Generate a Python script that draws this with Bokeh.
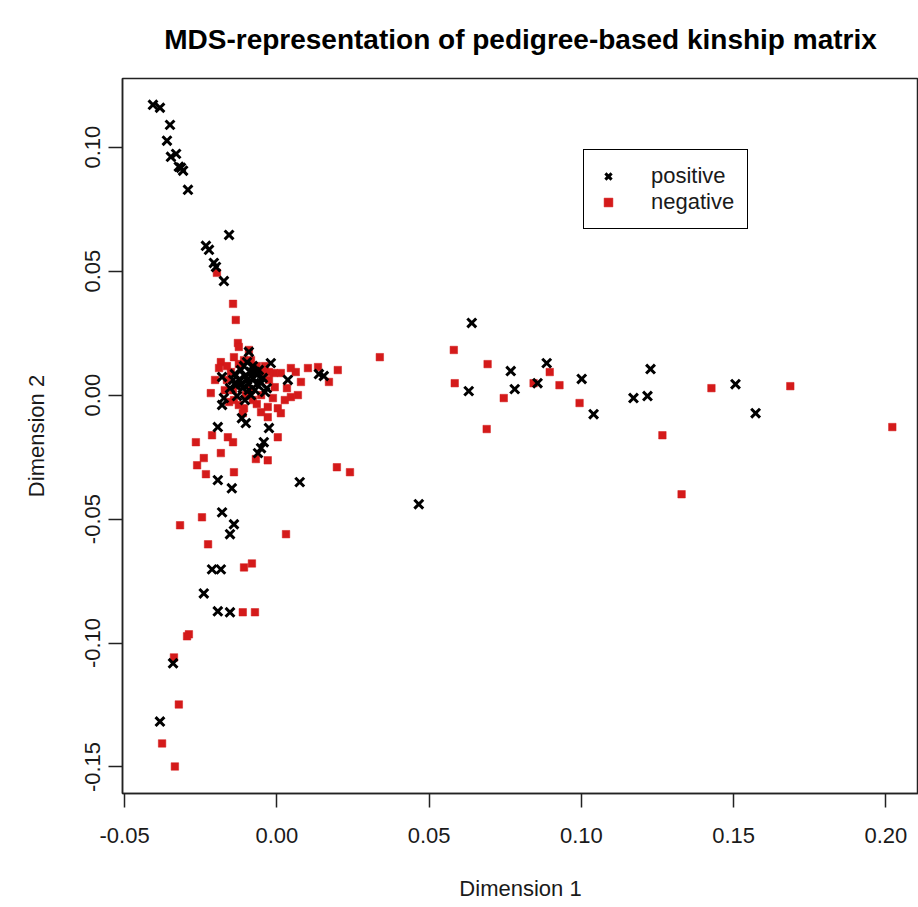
from bokeh.plotting import figure
from bokeh.models import (ColumnDataSource, FixedTicker, NumeralTickFormatter,
                          Legend, LegendItem)
from bokeh.embed import file_html
from bokeh.resources import INLINE

# MDS coordinates, individuals with a positive phenotype
pos_x = [-0.0407, -0.0384, -0.0351, -0.0361, -0.0348, -0.0331, -0.0322, -0.0308, -0.0315, -0.0292,
         -0.0157, -0.0233, -0.0223, -0.0207, -0.0200, -0.0174,
         -0.0092, -0.0020, -0.0098, -0.0118, -0.0085, -0.0105, -0.0079, -0.0125, -0.0066, -0.0092,
         -0.0112, -0.0052, -0.0135, -0.0072, -0.0039, 0.0036, 0.0138, 0.0154, -0.0180, -0.0174,
         -0.0180, -0.0033, -0.0115, -0.0194, -0.0026, -0.0043, -0.0052, -0.0062, -0.0102,
         -0.0108, -0.0079, -0.0059, -0.0138, -0.0098, -0.0118, -0.0066, -0.0085, -0.0105, -0.0144,
         -0.0046, -0.0131, -0.0072, -0.0092, -0.0154,
         -0.0194, -0.0148, 0.0075, -0.0180, -0.0141, -0.0154, -0.0213, -0.0184, -0.0240, -0.0194,
         -0.0154, -0.0341, -0.0384,
         0.0640, 0.0768, 0.0886, 0.0856, 0.0630, 0.0781, 0.1001, 0.1040, 0.1227, 0.1171, 0.1217,
         0.1506, 0.1572, 0.0466]
pos_y = [0.1171, 0.1159, 0.1090, 0.1026, 0.0961, 0.0973, 0.0921, 0.0905, 0.0917, 0.0828,
         0.0646, 0.0602, 0.0586, 0.0533, 0.0517, 0.0460,
         0.0174, 0.0129, 0.0133, 0.0101, 0.0093, 0.0077, 0.0069, 0.0061, 0.0081, 0.0044,
         0.0028, 0.0048, 0.0040, 0.0020, 0.0012, 0.0061, 0.0085, 0.0077, 0.0073, -0.0012,
         -0.0040, 0.0028, -0.0093, -0.0129, -0.0133, -0.0190, -0.0214, -0.0234, -0.0113,
         0.0117, 0.0117, 0.0101, 0.0085, 0.0061, 0.0044, 0.0044, 0.0000, -0.0020, 0.0061,
         0.0069, -0.0004, 0.0093, 0.0020, 0.0028,
         -0.0343, -0.0376, -0.0351, -0.0473, -0.0521, -0.0561, -0.0703, -0.0703, -0.0800, -0.0872,
         -0.0876, -0.1082, -0.1317,
         0.0291, 0.0097, 0.0129, 0.0048, 0.0016, 0.0024, 0.0065, -0.0077, 0.0105, -0.0012, -0.0004,
         0.0044, -0.0073, -0.0440]

# MDS coordinates, individuals with a negative phenotype
neg_x = [-0.0197, -0.0144, -0.0135,
         -0.0128, -0.0125, -0.0141, -0.0184, -0.0190, -0.0108, -0.0010, 0.0013, 0.0062, 0.0102,
         0.0135, 0.0200, 0.0171, -0.0217, -0.0141, -0.0125, -0.0085, -0.0052, -0.0030, 0.0003,
         0.0013, 0.0069, 0.0046, -0.0030, -0.0151, -0.0164, -0.0144, -0.0102, -0.0066, -0.0046,
         -0.0007, -0.0026, -0.0079, -0.0108, 0.0026,
         -0.0164, -0.0125, -0.0039, -0.0026, -0.0085, -0.0157, -0.0112, -0.0066, -0.0013, 0.0033,
         0.0079, -0.0171, -0.0203, -0.0052, -0.0092, 0.0046,
         -0.0213, -0.0161, -0.0144, 0.0003, -0.0266, -0.0184, -0.0240, -0.0262, -0.0069, -0.0030,
         -0.0233, -0.0141, -0.0246, -0.0318, 0.0030, -0.0226, -0.0108, -0.0082, -0.0112, -0.0072,
         -0.0289, -0.0295, -0.0338, -0.0322, -0.0377, -0.0335,
         0.0338, 0.0581, 0.0692, 0.0896, 0.0584, 0.0745, 0.0843, 0.0928, 0.0994, 0.0689, 0.0197,
         0.0240, 0.1427, 0.1686, 0.1266, 0.1329, 0.2021]
neg_y = [0.0493, 0.0368, 0.0303,
         0.0210, 0.0194, 0.0153, 0.0133, 0.0109, 0.0141, 0.0089, 0.0089, 0.0093, 0.0109,
         0.0113, 0.0101, 0.0053, 0.0008, -0.0020, -0.0040, 0.0020, 0.0000, -0.0048, -0.0053,
         -0.0073, 0.0000, -0.0008, -0.0089, 0.0093, 0.0061, 0.0020, 0.0000, 0.0117, 0.0093,
         0.0032, 0.0061, -0.0020, -0.0053, -0.0020,
         0.0117, 0.0125, 0.0117, 0.0093, 0.0141, -0.0028, -0.0073, -0.0036, -0.0012, 0.0028,
         0.0053, 0.0020, 0.0061, -0.0069, 0.0182, 0.0109,
         -0.0162, -0.0170, -0.0190, -0.0170, -0.0190, -0.0234, -0.0254, -0.0283, -0.0258, -0.0263,
         -0.0319, -0.0311, -0.0493, -0.0525, -0.0561, -0.0602, -0.0695, -0.0679, -0.0876, -0.0876,
         -0.0965, -0.0973, -0.1058, -0.1248, -0.1405, -0.1498,
         0.0153, 0.0182, 0.0125, 0.0093, 0.0048, -0.0012, 0.0048, 0.0040, -0.0032, -0.0137, -0.0291,
         -0.0311, 0.0028, 0.0036, -0.0162, -0.0400, -0.0129]

x_ticks = [-0.05, 0.00, 0.05, 0.10, 0.15, 0.20]
y_ticks = [-0.15, -0.10, -0.05, 0.00, 0.05, 0.10]
groups = ["positive", "negative"]

FONT = "Liberation Sans"
RED = "#D41A1A"

p = figure(width=918, height=907,
           x_range=(-0.0507, 0.2107), y_range=(-0.1607, 0.1277),
           output_backend="svg", toolbar_location=None,
           min_border_left=122, min_border_right=0,
           min_border_top=78, min_border_bottom=114)

p.title.text = "MDS-representation of pedigree-based kinship matrix"
p.title.align = "center"
p.title.vertical_align = "top"
p.title.text_font = FONT
p.title.text_font_size = "28px"
p.title.text_font_style = "bold"
p.title.text_color = "black"
p.title.standoff = 44

p.xgrid.visible = False
p.ygrid.visible = False
p.outline_line_color = "#222222"
p.outline_line_width = 1.5
p.background_fill_color = "white"
p.border_fill_color = "white"

p.xaxis.ticker = FixedTicker(ticks=x_ticks)
p.yaxis.ticker = FixedTicker(ticks=y_ticks)
p.xaxis.axis_label = "Dimension 1"
p.yaxis.axis_label = "Dimension 2"
for ax in (p.xaxis, p.yaxis):
    ax.formatter = NumeralTickFormatter(format="0.00")
    ax.axis_line_color = "#222222"
    ax.axis_line_width = 1.5
    ax.major_tick_line_color = "#222222"
    ax.major_tick_line_width = 1.5
    ax.major_tick_out = 14
    ax.major_tick_in = 0
    ax.minor_tick_line_color = None
    ax.major_label_text_font = FONT
    ax.major_label_text_font_size = "22px"
    ax.major_label_text_color = "#1a1a1a"
    ax.axis_label_text_font = FONT
    ax.axis_label_text_font_size = "22px"
    ax.axis_label_text_font_style = "normal"
    ax.axis_label_text_color = "#1a1a1a"
p.xaxis.major_label_standoff = 20
p.xaxis.axis_label_standoff = 30
p.yaxis.major_label_orientation = "vertical"
p.yaxis.major_label_standoff = 8
p.yaxis.axis_label_standoff = 34

src_pos = ColumnDataSource(dict(x=pos_x, y=pos_y))
src_neg = ColumnDataSource(dict(x=neg_x, y=neg_y))

r_neg = p.scatter("x", "y", source=src_neg, marker="square", size=7.5,
                  fill_color=RED, line_color=RED, line_width=0.5)
r_pos = p.scatter("x", "y", source=src_pos, marker="x", size=12.5,
                  line_color="black", line_width=3)

legend = Legend(items=[LegendItem(label=groups[0], renderers=[r_pos]),
                       LegendItem(label=groups[1], renderers=[r_neg])],
                location=(461, 564))
legend.border_line_color = "black"
legend.border_line_width = 1
legend.border_line_alpha = 1
legend.background_fill_color = "white"
legend.background_fill_alpha = 1
legend.label_text_font = FONT
legend.label_text_font_size = "22px"
legend.label_text_color = "#1a1a1a"
legend.padding = 13
legend.margin = 0
legend.spacing = 0
legend.glyph_width = 22
legend.glyph_height = 26
legend.label_height = 26
legend.label_standoff = 32
p.add_layout(legend)

open("out.html", "w").write(file_html(p, INLINE))
